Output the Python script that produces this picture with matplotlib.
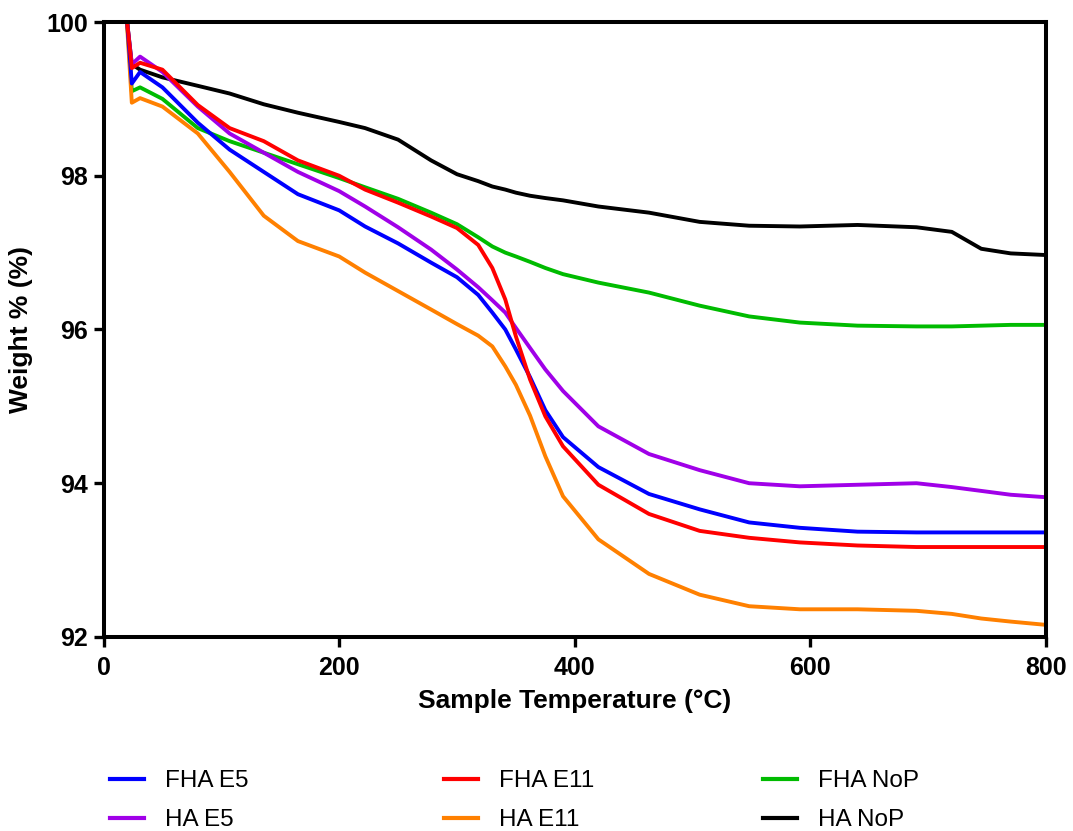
import matplotlib
matplotlib.use("Agg")
import matplotlib.pyplot as plt

plt.rcParams['font.family'] = ['Liberation Sans', 'DejaVu Sans']

# Sample temperature grid (°C) shared by all runs
temperature = [20, 24, 31, 50, 80, 107, 136, 165, 200, 222, 250, 278, 300, 318,
               330, 341, 350, 362, 375, 390, 420, 463, 506, 548, 591, 640, 690,
               720, 745, 770, 798]

# Weight % readings for each sample
fha_e5 = [100.0, 99.20, 99.35, 99.15, 98.69, 98.34, 98.05, 97.76, 97.55, 97.34,
          97.12, 96.87, 96.68, 96.45, 96.22, 96.00, 95.74, 95.38, 94.95, 94.60,
          94.21, 93.86, 93.66, 93.49, 93.42, 93.37, 93.36, 93.36, 93.36, 93.36, 93.36]
ha_e5 = [100.0, 99.45, 99.55, 99.35, 98.90, 98.55, 98.30, 98.05, 97.80, 97.60,
         97.33, 97.04, 96.78, 96.55, 96.38, 96.22, 96.02, 95.76, 95.48, 95.20,
         94.74, 94.38, 94.17, 94.00, 93.96, 93.98, 94.00, 93.95, 93.90, 93.85, 93.82]
fha_e11 = [100.0, 99.40, 99.47, 99.38, 98.92, 98.62, 98.45, 98.20, 98.00, 97.82,
           97.65, 97.47, 97.32, 97.10, 96.80, 96.39, 95.91, 95.35, 94.87, 94.48,
           93.98, 93.60, 93.38, 93.29, 93.23, 93.19, 93.17, 93.17, 93.17, 93.17, 93.17]
ha_e11 = [99.95, 98.95, 99.01, 98.90, 98.55, 98.05, 97.48, 97.15, 96.95, 96.74,
          96.50, 96.26, 96.07, 95.92, 95.78, 95.52, 95.28, 94.88, 94.35, 93.83,
          93.27, 92.82, 92.55, 92.40, 92.36, 92.36, 92.34, 92.30, 92.24, 92.20, 92.16]
fha_nop = [100.0, 99.10, 99.15, 99.00, 98.62, 98.45, 98.30, 98.15, 97.97, 97.85,
           97.70, 97.52, 97.37, 97.20, 97.08, 97.00, 96.95, 96.88, 96.80, 96.72,
           96.61, 96.48, 96.31, 96.17, 96.09, 96.05, 96.04, 96.04, 96.05, 96.06, 96.06]
ha_nop = [100.0, 99.45, 99.38, 99.28, 99.17, 99.07, 98.93, 98.82, 98.70, 98.62,
          98.47, 98.20, 98.02, 97.93, 97.86, 97.82, 97.78, 97.74, 97.71, 97.68,
          97.60, 97.52, 97.40, 97.35, 97.34, 97.36, 97.33, 97.27, 97.05, 96.99, 96.97]

series = [
    ("FHA E5", fha_e5, "#0000FF"),
    ("HA E5", ha_e5, "#A000E8"),
    ("FHA E11", fha_e11, "#FF0000"),
    ("HA E11", ha_e11, "#FF8000"),
    ("FHA NoP", fha_nop, "#00BB00"),
    ("HA NoP", ha_nop, "#000000"),
]
draw_order = ["HA NoP", "FHA NoP", "HA E5", "HA E11", "FHA E5", "FHA E11"]

fig = plt.figure(figsize=(10.73, 8.31), dpi=100)
ax = fig.add_axes([0.0965, 0.2335, 0.8784, 0.7400])

handles = {}
for name in draw_order:
    label, vals, color = next(s for s in series if s[0] == name)
    (ln,) = ax.plot(temperature, vals, color=color, lw=2.8, label=label,
                    solid_joinstyle='round')
    handles[label] = ln

ax.set_xlim(0, 800)
ax.set_ylim(92, 100)
ax.set_xticks([0, 200, 400, 600, 800])
ax.set_yticks([92, 94, 96, 98, 100])
for lab in ax.get_xticklabels() + ax.get_yticklabels():
    lab.set_fontweight('bold')
    lab.set_fontsize(18)
ax.tick_params(direction='out', length=7, width=2.4)
ax.tick_params(axis='x', pad=7)
ax.tick_params(axis='y', pad=4)
for sp in ax.spines.values():
    sp.set_linewidth(2.9)

ax.set_xlabel("Sample Temperature (°C)", fontsize=19, fontweight='bold', labelpad=6)
ax.set_ylabel("Weight % (%)", fontsize=19, fontweight='bold', labelpad=10)

# Legend: three columns of two entries, placed below the axes
columns = [("FHA E5", "HA E5"), ("FHA E11", "HA E11"), ("FHA NoP", "HA NoP")]
col_x = [0.1025, 0.4138, 0.7111]
for names, x0 in zip(columns, col_x):
    leg = fig.legend([handles[n] for n in names], list(names), loc='center left',
                     bbox_to_anchor=(x0, 0.0365), frameon=False, fontsize=17.5,
                     handlelength=1.4, handletextpad=0.85, labelspacing=0.7,
                     borderpad=0, borderaxespad=0)
    for h in leg.get_lines():
        h.set_linewidth(3)

fig.savefig("out.png", dpi=100)
